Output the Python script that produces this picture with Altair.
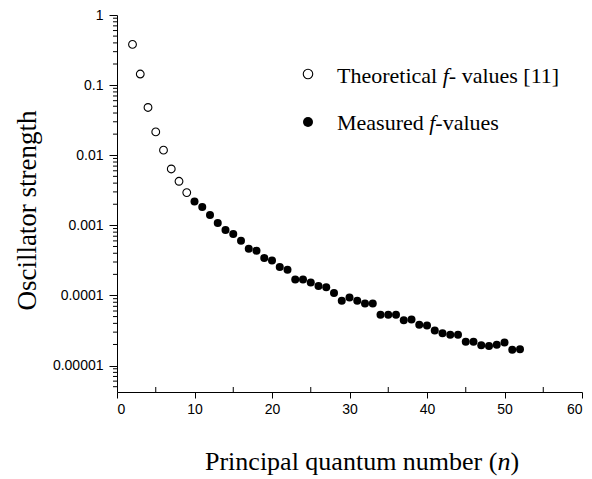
import altair as alt
import pandas as pd

# ---- data ----
n_theo = [2, 3, 4, 5, 6, 7, 8, 9]
f_theo = [0.381, 0.144, 0.048, 0.0215, 0.0118, 0.00637, 0.00425, 0.00293]

n_meas = list(range(10, 53))
f_meas = [0.00218, 0.00183, 0.00141, 0.00108, 0.000857, 0.000751, 0.000604,
          0.000465, 0.000435, 0.000341, 0.000316, 0.000254, 0.000233,
          0.000169, 0.000169, 0.000153, 0.000136, 0.000131, 0.000108,
          8.4e-5, 9.36e-5, 8.4e-5, 7.69e-5, 7.7e-5, 5.3e-5, 5.3e-5, 5.3e-5,
          4.44e-5, 4.54e-5, 3.81e-5, 3.73e-5, 3.16e-5, 2.89e-5, 2.75e-5,
          2.75e-5, 2.18e-5, 2.18e-5, 1.95e-5, 1.91e-5, 1.98e-5, 2.13e-5,
          1.68e-5, 1.71e-5]

x_major = [0, 10, 20, 30, 40, 50, 60]
x_minor = [5, 15, 25, 35, 45, 55]
y_min, y_max = 4.2e-6, 1.0
y_major = [1e-5, 1e-4, 1e-3, 1e-2, 1e-1, 1.0]
y_minor = [m * 10.0 ** k for k in range(-6, 0) for m in range(2, 10)
           if y_min <= m * 10.0 ** k <= 1.0]

legend_theo = ["Theoretical", "f", "- values [11]"]
legend_meas = ["Measured", "f", "-values"]
xtitle = ["Principal quantum number (", "n", ")"]

W, H = 465, 377
SERIF = "Liberation Serif"
SANS = "Liberation Sans"

xs = alt.Scale(domain=[0, 60], nice=False, zero=False)
ys = alt.Scale(type="log", domain=[y_min, y_max], nice=False)

x_axis = alt.Axis(values=x_major, title=None, ticks=True, tickSize=6, labelPadding=4,
                  labelFont=SANS, labelFontSize=14, format="d")
y_axis = alt.Axis(values=y_major, title="Oscillator strength", ticks=True,
                  labelExpr="format(datum.value, '~f')",
                  tickSize=8, labelPadding=6, labelFont=SANS, labelFontSize=14,
                  titleFont=SERIF, titleFontSize=27, titleFontWeight="normal",
                  titleX=-90, titleY=195, titleBaseline="middle")

df_theo = pd.DataFrame({"n": n_theo, "f": f_theo})
df_meas = pd.DataFrame({"n": n_meas, "f": f_meas})

theo = alt.Chart(df_theo).mark_point(shape="circle", filled=False, color="black",
                                     size=60, strokeWidth=1.1, opacity=1).encode(
    x=alt.X("n:Q", scale=xs, axis=x_axis),
    y=alt.Y("f:Q", scale=ys, axis=y_axis),
)
meas = alt.Chart(df_meas).mark_circle(color="black", size=64, opacity=1).encode(
    x=alt.X("n:Q", scale=xs),
    y=alt.Y("f:Q", scale=ys),
)
# minor ticks: x inward, y outward
xminor = alt.Chart(pd.DataFrame({"n": x_minor})).mark_rule(color="black", strokeWidth=1).encode(
    x=alt.X("n:Q", scale=xs),
    y=alt.value(H - 5),
    y2=alt.value(H),
)
yminor = alt.Chart(pd.DataFrame({"f": y_minor})).mark_rule(color="black", strokeWidth=1).encode(
    y=alt.Y("f:Q", scale=ys),
    x=alt.value(-4),
    x2=alt.value(0),
)

def seg(text, x, y, italic=False, size=22):
    return alt.Chart(pd.DataFrame({"t": [text]})).mark_text(
        font=SERIF, fontSize=size, fontStyle="italic" if italic else "normal",
        align="left", baseline="alphabetic", color="black").encode(
        text="t:N", x=alt.value(x), y=alt.value(y))

# legend
fs = 22
lx = 220
t1 = lx + (4.554 + 0.25) * fs
t2 = t1 + 0.278 * fs
m1 = lx + (3.943 + 0.25) * fs
m2 = m1 + 0.278 * fs
leg_open = alt.Chart(pd.DataFrame({"k": [0]})).mark_point(
    shape="circle", filled=False, color="black", size=90, strokeWidth=1.1, opacity=1).encode(
    x=alt.value(191), y=alt.value(59))
leg_fill = alt.Chart(pd.DataFrame({"k": [0]})).mark_circle(
    color="black", size=100, opacity=1).encode(x=alt.value(191), y=alt.value(107))

leg = [seg(legend_theo[0], lx, 68.3), seg(legend_theo[1], t1, 68.3, True),
       seg(legend_theo[2], t2, 68.3),
       seg(legend_meas[0], lx, 115), seg(legend_meas[1], m1, 115, True),
       seg(legend_meas[2], m2, 115)]

# x title with italic n
ts = 26
xt0 = 88
xt1 = xt0 + 11.249 * ts
xt2 = xt1 + 0.5 * ts
xtitle_layers = [seg(xtitle[0], xt0, 455, size=ts), seg(xtitle[1], xt1, 455, True, ts),
                 seg(xtitle[2], xt2, 455, size=ts)]

chart = alt.layer(theo, meas, xminor, yminor, leg_open, leg_fill, *leg, *xtitle_layers).properties(
    width=W, height=H,
    padding={"left": 117, "top": 15, "right": 10, "bottom": 87},
    autosize=alt.AutoSizeParams(type="none"),
    background="white",
).configure_view(stroke=None).configure_axis(
    grid=False, domainColor="black", tickColor="black", labelColor="black",
    titleColor="black", domainWidth=1, tickWidth=1, tickOpacity=1,
)

chart.save("out.html", embed_options={"renderer": "svg", "actions": False})
